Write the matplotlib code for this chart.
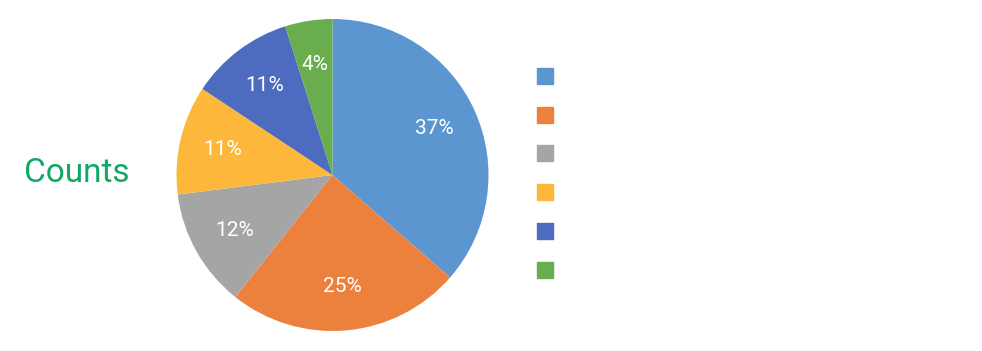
import matplotlib
matplotlib.use("Agg")
import matplotlib.pyplot as plt
from matplotlib.lines import Line2D

plt.rcParams['font.family'] = ['Roboto', 'DejaVu Sans']

# slice shares (clockwise from 12 o'clock)
categories = ["", "", "", "", "", ""]
values = [36.4, 24.3, 12.3, 11.3, 10.8, 4.9]
pct_labels = ["37%", "25%", "12%", "11%", "11%", "4%"]
colors = ["#5b96d0", "#ec813e", "#a5a5a5", "#fdb83b", "#4d6cbf", "#69ad4f"]

W, H = 982, 351
fig = plt.figure(figsize=(W / 100, H / 100), dpi=100)

cx, cy, r = 332.5, 175, 156
ax = fig.add_axes([(cx - r) / W, (H - cy - r) / H, 2 * r / W, 2 * r / H])
wedges, texts, autotexts = ax.pie(
    values, colors=colors, startangle=90, counterclock=False,
    autopct=lambda p: "", pctdistance=0.72,
    wedgeprops=dict(linewidth=0), radius=1,
)
for t, lab in zip(autotexts, pct_labels):
    t.set_text(lab)
    t.set_color("white")
    t.set_fontsize(15)
ax.set_xlim(-1, 1)
ax.set_ylim(-1, 1)
ax.axis("off")

handles = [Line2D([], [], marker="s", linestyle="none", markersize=11.5,
                  markerfacecolor=c, markeredgecolor=c) for c in colors]
fig.legend(handles, [" " + c for c in categories], loc="upper left",
           bbox_to_anchor=(537 / W, 1 - 70 / H), frameon=False,
           fontsize=12, handlelength=1.0, handletextpad=0.5,
           borderpad=0, borderaxespad=0, labelspacing=1.42)

fig.text(24 / W, 1 - 173 / H, "Counts", color="#10a865", fontsize=24,
         ha="left", va="center")

fig.savefig("out.png", dpi=100)
